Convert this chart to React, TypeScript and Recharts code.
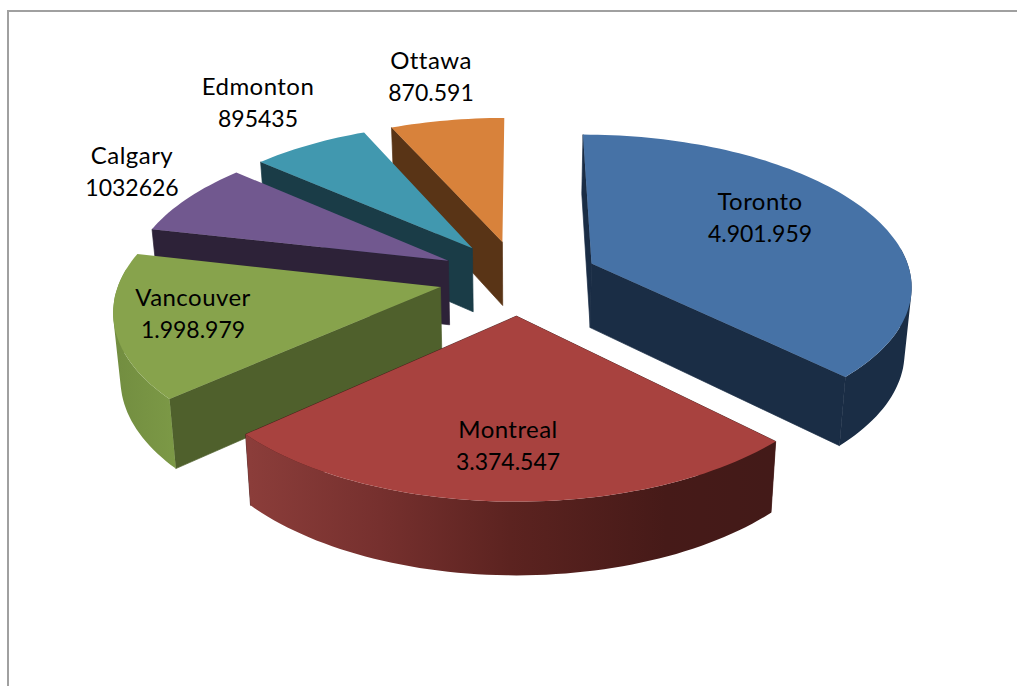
import React from "react";
import { PieChart, Pie, Cell } from "recharts";

const CITIES = ["Toronto", "Montreal", "Vancouver", "Calgary", "Edmonton", "Ottawa"];
const POPULATIONS = [4901959, 3374547, 1998979, 1032626, 895435, 870591];
const VALUE_LABELS = ["4.901.959", "3.374.547", "1.998.979", "1032626", "895435", "870.591"];

// Back slices get painted first so the front ones can overlap them
const DRAW_ORDER = ["Ottawa", "Edmonton", "Calgary", "Vancouver", "Toronto", "Montreal"];

const TOP_FILLS = ["#4672A6", "#A8423F", "#87A34C", "#71588F", "#4198AF", "#D8823B"];
const WALL_FILLS = ["#1A2D45", "#431A18", "#4F602C", "#2D2238", "#1A3C47", "#593416"];

const LABEL_CENTERS: Record<string, [number, number]> = {
  Toronto: [760, 218],
  Montreal: [508, 446],
  Vancouver: [193, 314],
  Calgary: [132, 172],
  Edmonton: [258, 103],
  Ottawa: [431, 77],
};

const WIDTH = 1017;
const HEIGHT = 686;
const CX = 518.5;
const CY = 277.5;
const RADIUS = 320;

// Tilted view of the pie
const EXPLODE = 80;
const SQUASH = 0.467;
const CAMERA = 2400;
const THICKNESS = 66;
const BOTTOM_SHRINK = 0.982;

const chartData = CITIES.map((name, i) => ({ name, value: POPULATIONS[i] }));

type Pt = [number, number];

function project(wx: number, wy: number, bottom: boolean, cx: number, cy: number): Pt {
  let s = CAMERA / (CAMERA - wy);
  if (bottom) s *= BOTTOM_SHRINK;
  return [cx + s * wx, cy + s * SQUASH * wy + (bottom ? s * THICKNESS : 0)];
}

function toPath(points: Pt[]) {
  return "M" + points.map((p) => `${p[0].toFixed(1)},${p[1].toFixed(1)}`).join("L") + "Z";
}

// Recharts hands over plain polar angles; these get extruded into a wedge
function renderWedge(props: any, only: string) {
  const name = props.name ?? props.payload?.name;
  if (name !== only) return <g />;
  const { cx, cy, outerRadius, startAngle, endAngle } = props;
  const i = CITIES.indexOf(name);
  const from = 90 - startAngle;
  const to = 90 - endAngle;
  const mid = ((from + to) / 2) * (Math.PI / 180);
  const ox = EXPLODE * Math.sin(mid);
  const oy = -EXPLODE * Math.cos(mid);

  const rim: [number, number][] = [];
  const facing: boolean[] = [];
  const steps = Math.ceil((to - from) / 1.5);
  for (let k = 0; k <= steps; k++) {
    const a = ((from + ((to - from) * k) / steps) * Math.PI) / 180;
    rim.push([ox + outerRadius * Math.sin(a), oy - outerRadius * Math.cos(a)]);
    facing.push(-Math.cos(a) > -0.1);
  }
  const rimTop = rim.map((p) => project(p[0], p[1], false, cx, cy));
  const rimBottom = rim.map((p) => project(p[0], p[1], true, cx, cy));
  const apexTop = project(ox, oy, false, cx, cy);
  const apexBottom = project(ox, oy, true, cx, cy);
  const wall = WALL_FILLS[i];
  const outerFill = name === "Montreal" ? "url(#montrealRim)" : name === "Vancouver" ? "url(#vancouverRim)" : wall;
  // The closing wall of a slice ending in the back half faces away from the viewer
  const showEndWall = -Math.cos((to * Math.PI) / 180) > 0;

  // The rim is a run of quads: a single outline would fold over where the wall turns away
  let rimPath = "";
  for (let k = 0; k < steps; k++) {
    if (!facing[k] && !facing[k + 1]) continue;
    const quad = [rimTop[k], rimTop[k + 1], rimBottom[k + 1], rimBottom[k]];
    const area = quad.reduce((sum, p, n) => {
      const q = quad[(n + 1) % 4];
      return sum + p[0] * q[1] - q[0] * p[1];
    }, 0);
    rimPath += toPath(area < 0 ? quad.slice().reverse() : quad);
  }

  return (
    <g>
      <path d={toPath([apexTop, rimTop[0], rimBottom[0], apexBottom])} fill={wall} stroke={wall} strokeWidth={0.7} />
      {showEndWall && (
        <path d={toPath([apexTop, rimTop[steps], rimBottom[steps], apexBottom])} fill={wall} stroke={wall} strokeWidth={0.7} />
      )}
      {rimPath && <path d={rimPath} fill={outerFill} />}
      <path d={toPath([apexTop, ...rimTop])} fill={TOP_FILLS[i]} />
    </g>
  );
}

function renderLabel(props: any) {
  const name = props.name ?? props.payload?.name;
  const [x, y] = LABEL_CENTERS[name];
  const value = VALUE_LABELS[CITIES.indexOf(name)];
  return (
    <text x={x} y={y} textAnchor="middle" fontFamily="Lato" fill="#000">
      <tspan x={x} dy={-8} fontSize={24} letterSpacing={0.45}>{name}</tspan>
      <tspan x={x} dy={32} fontSize={23}>{value}</tspan>
    </text>
  );
}

export default function App() {
  return (
    <div style={{ position: "absolute", left: 0, top: 0, width: WIDTH, height: HEIGHT, background: "#fff", overflow: "hidden" }}>
      <div
        style={{
          position: "absolute",
          left: 7,
          top: 10,
          right: -4,
          bottom: -4,
          borderLeft: "2px solid #A0A0A0",
          borderTop: "2px solid #A0A0A0",
        }}
      />
      <PieChart width={WIDTH} height={HEIGHT} margin={{ top: 0, right: 0, bottom: 0, left: 0 }}>
        <defs>
          <linearGradient id="montrealRim" gradientUnits="userSpaceOnUse" x1={250} y1={0} x2={770} y2={0}>
            <stop offset="0" stopColor="#8B3D3A" />
            <stop offset="0.25" stopColor="#76302E" />
            <stop offset="0.5" stopColor="#5C2320" />
            <stop offset="0.8" stopColor="#461A18" />
            <stop offset="1" stopColor="#431A18" />
          </linearGradient>
          <linearGradient id="vancouverRim" gradientUnits="userSpaceOnUse" x1={113} y1={0} x2={176} y2={0}>
            <stop offset="0" stopColor="#728D40" />
            <stop offset="1" stopColor="#7C9946" />
          </linearGradient>
        </defs>
        {DRAW_ORDER.map((city, layer) => (
          <Pie
            key={city}
            data={chartData}
            dataKey="value"
            nameKey="name"
            cx={CX}
            cy={CY}
            outerRadius={RADIUS}
            startAngle={90}
            endAngle={-270}
            paddingAngle={0}
            stroke="none"
            isAnimationActive={false}
            labelLine={false}
            label={layer === DRAW_ORDER.length - 1 ? renderLabel : false}
            shape={(props: any) => renderWedge(props, city)}
          >
            {chartData.map((d, i) => (
              <Cell key={d.name} fill={TOP_FILLS[i]} />
            ))}
          </Pie>
        ))}
      </PieChart>
    </div>
  );
}
